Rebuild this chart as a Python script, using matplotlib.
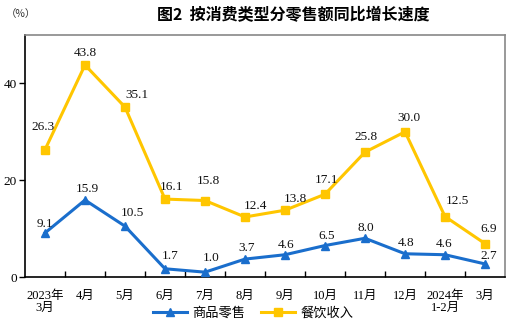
import matplotlib
matplotlib.use("Agg")
import matplotlib.pyplot as plt

categories = ["2023年\n3月", "4月", "5月", "6月", "7月", "8月", "9月", "10月", "11月", "12月", "2024年\n1-2月", "3月"]
goods = [9.1, 15.9, 10.5, 1.7, 1.0, 3.7, 4.6, 6.5, 8.0, 4.8, 4.6, 2.7]
catering = [26.3, 43.8, 35.1, 16.1, 15.8, 12.4, 13.8, 17.1, 25.8, 30.0, 12.5, 6.9]
yticks = [0, 20, 40]

# label offsets in pixels (dx, dy up)
goods_off = [(0, 9), (2, 11), (7, 13), (5, 13), (6, 14), (2, 11), (1, 10), (2, 10), (1, 10), (1, 11), (-1, 11), (4, 8)]
cat_off = [(-2, 23), (0, 12), (12, 12), (7, 12), (3, 20), (10, 11), (10, 11), (2, 14), (1, 15), (4, 14), (12, 16), (4, 15)]

DPI = 100
fig = plt.figure(figsize=(5.14, 3.26), dpi=DPI)
ax = fig.add_axes([25 / 514, 1 - 277 / 326, 480 / 514, 242 / 326])

blue = "#1a6ecc"
yellow = "#ffc600"
serif_cjk = ["Liberation Serif", "Noto Sans CJK SC"]

x = list(range(len(categories)))
ax.plot(x, goods, color=blue, lw=2.2, marker="^", ms=5.5, label="商品零售", zorder=3)
ax.plot(x, catering, color=yellow, lw=2.2, marker="s", ms=6, label="餐饮收入", zorder=3)

px = 72 / DPI
for i, v in enumerate(goods):
    dx, dy = goods_off[i]
    ax.annotate(f"{v:.1f}", (i, v), xytext=(dx * px, dy * px), textcoords="offset points",
                ha="center", va="center", fontsize=9.5, family="Liberation Serif", color="#111111")
for i, v in enumerate(catering):
    dx, dy = cat_off[i]
    ax.annotate(f"{v:.1f}", (i, v), xytext=(dx * px, dy * px), textcoords="offset points",
                ha="center", va="center", fontsize=9.5, family="Liberation Serif", color="#111111")

ax.set_xlim(-0.5, len(categories) - 0.5)
ax.set_ylim(0, 50)
ax.set_yticks(yticks)
ax.set_yticklabels([str(t) for t in yticks], family="Liberation Serif", fontsize=9.5)
ax.tick_params(axis="y", direction="out", length=4, width=1, pad=2)

ax.set_xticks([i + 0.5 for i in range(len(categories) - 1)])
ax.set_xticklabels([])
ax.set_xticks(x, minor=True)
ax.set_xticklabels(categories, minor=True, fontsize=9, family=serif_cjk, linespacing=1.05, va="top")
ax.tick_params(axis="x", which="minor", length=0, pad=9)
ax.tick_params(axis="x", which="major", direction="in", length=4, width=1)

for s in ["left", "bottom"]:
    ax.spines[s].set_color("black")
    ax.spines[s].set_linewidth(1.2)
for s in ["top", "right"]:
    ax.spines[s].set_color("#888888")
    ax.spines[s].set_linewidth(1.2)

fig.text(293 / 514, 1 - 15 / 326, "图2  按消费类型分零售额同比增长速度", ha="center", va="center",
         fontsize=11.5, fontweight="bold", family=["Noto Sans CJK SC", "DejaVu Sans"])
fig.text(21 / 514, 1 - 14 / 326, "（%）", ha="center", va="center", fontsize=7.5,
         family=["Noto Sans CJK SC", "DejaVu Sans"], color="#333333")

leg = fig.legend(loc="center", bbox_to_anchor=(253 / 514, 1 - 313 / 326), ncol=2, frameon=False,
                 prop={"family": ["Noto Sans CJK SC", "DejaVu Sans"], "size": 9.5},
                 handlelength=2.6, columnspacing=1.2, handletextpad=0.4)

fig.savefig("out.png", dpi=DPI)
